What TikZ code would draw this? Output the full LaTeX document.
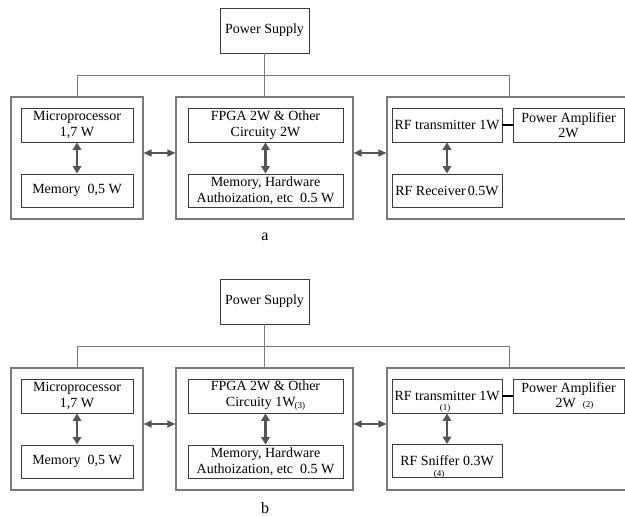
\documentclass[tikz,border=0pt]{standalone}
\usepackage{fontspec}
\setmainfont{Liberation Serif}
\usetikzlibrary{arrows.meta}
\definecolor{linegray}{HTML}{7A7A7A}
\definecolor{boxgray}{HTML}{3C3C3C}
\definecolor{arrgray}{HTML}{555555}
\tikzset{
  txt/.style={font=\fontsize{14}{15.5}\selectfont},
  psbox/.style={draw=boxgray, line width=0.9pt, minimum width=89pt, minimum height=45pt, inner sep=0pt, txt},
  outerbox/.style={draw=linegray, line width=1.1pt, minimum height=122pt, inner sep=0pt},
  innerbox/.style={draw=boxgray, line width=0.9pt, minimum height=34pt, inner sep=0pt, align=center, txt},
  feed/.style={draw=linegray, line width=0.9pt},
  varrow/.style={draw=arrgray, line width=2.4pt, {Triangle[width=8.5pt,length=7.5pt]}-{Triangle[width=8.5pt,length=7.5pt]}},
  harrow/.style={draw=arrgray, line width=1.5pt, {Triangle[width=7pt,length=8pt]}-{Triangle[width=7pt,length=8pt]}},
  link/.style={draw=black, line width=1.6pt},
  note/.style={font=\fontsize{9}{10}\selectfont, inner sep=0pt},
  caption/.style={font=\fontsize{16}{18}\selectfont, inner sep=0pt}
}
\begin{document}
\begin{tikzpicture}[x=1pt,y=-1pt]
\clip (0,0) rectangle (625,516);
\fill[white] (0,0) rectangle (625,516);
% ---------------- panel a ----------------
\node[psbox] (psa) at (264.5,30.5) {Power Supply};
\coordinate (ja) at (264.5,75);
\coordinate (la) at (77,75);
\coordinate (ra) at (509,75);
\node[outerbox, minimum width=132pt] (loa) at (77,158) {};
\node[outerbox, minimum width=177pt] (moa) at (264.5,158) {};
\node[outerbox, minimum width=258pt] (roa) at (516,158) {};
\draw[feed] (psa.south) -- (ja);
\draw[feed] (la) -- (ra);
\draw[feed] (la) -- (la |- loa.north);
\draw[feed] (ja) -- (ja |- moa.north);
\draw[feed] (ra) -- (ra |- roa.north);
\node[innerbox, minimum width=112pt] (mpa) at (77,125) {Microprocessor\\1,7 W};
\node[innerbox, minimum width=112pt, minimum height=33pt] (mema) at (77,190.5) {Memory\ \ 0,5 W};
\node[innerbox, minimum width=155pt] (fpa) at (265.5,125) {FPGA 2W \& Other\\Circuity 2W};
\node[innerbox, minimum width=155pt, minimum height=33pt] (mha) at (265.5,190.5) {Memory, Hardware\\Authoization, etc\ \ 0.5 W};
\node[innerbox, minimum width=110pt] (rfta) at (447,125) {RF transmitter 1W};
\node[innerbox, minimum width=111pt] (paa) at (568.5,125) {Power Amplifier\\2W};
\node[innerbox, minimum width=110pt, minimum height=33pt] (rfra) at (447,190.5) {RF Receiver\,0.5W};
\draw[varrow] (mpa.south) -- (mema.north);
\draw[varrow] (fpa.south) -- (mha.north);
\draw[varrow] (rfta.south) -- (rfra.north);
\draw[harrow] (loa.east |- 0,153) -- (moa.west |- 0,153);
\draw[harrow] (moa.east |- 0,153) -- (roa.west |- 0,153);
\draw[link] (rfta.east) -- (paa.west);
\node[caption] (capa) at (265,237) {a};
% ---------------- panel b ----------------
\begin{scope}[shift={(0,271)}]
\node[psbox] (psb) at (264.5,30.5) {Power Supply};
\coordinate (jb) at (264.5,75);
\coordinate (lb) at (77,75);
\coordinate (rb) at (509,75);
\node[outerbox, minimum width=132pt] (lob) at (77,158) {};
\node[outerbox, minimum width=177pt] (mob) at (264.5,158) {};
\node[outerbox, minimum width=258pt] (rob) at (516,158) {};
\draw[feed] (psb.south) -- (jb);
\draw[feed] (lb) -- (rb);
\draw[feed] (lb) -- (lb |- lob.north);
\draw[feed] (jb) -- (jb |- mob.north);
\draw[feed] (rb) -- (rb |- rob.north);
\node[innerbox, minimum width=112pt] (mpb) at (77,125) {Microprocessor\\1,7 W};
\node[innerbox, minimum width=112pt, minimum height=33pt] (memb) at (77,190.5) {Memory\ \ 0,5 W};
\node[innerbox, minimum width=155pt] (fpb) at (265.5,125) {FPGA 2W \& Other\\Circuity 1W\kern-1pt\raisebox{-2.5pt}{\fontsize{9}{10}\selectfont(3)}};
\node[innerbox, minimum width=155pt, minimum height=33pt] (mhb) at (265.5,190.5) {Memory, Hardware\\Authoization, etc\ \ 0.5 W};
\node[innerbox, minimum width=110pt] (rftb) at (447,125) {RF transmitter 1W};
\node[innerbox, minimum width=111pt] (pab) at (568.5,125) {Power Amplifier\\\hspace*{12pt}2W\ \ {\fontsize{9}{10}\selectfont(2)}};
\node[innerbox, minimum width=110pt, minimum height=33pt] (rfsb) at (447,190) {RF Sniffer 0.3W};
\node[note] (n1) at (445,137.5) {(1)};
\node[note] (n4) at (439,203) {(4)};
\draw[varrow] (rftb.south) -- (rfsb.north);
\draw[varrow] (mpb.south) -- (memb.north);
\draw[varrow] (fpb.south) -- (mhb.north);
\draw[harrow] (lob.east |- 0,153) -- (mob.west |- 0,153);
\draw[harrow] (mob.east |- 0,153) -- (rob.west |- 0,153);
\draw[link] (rftb.east) -- (pab.west);
\node[caption] (capb) at (265,237) {b};
\end{scope}
\end{tikzpicture}
\end{document}
